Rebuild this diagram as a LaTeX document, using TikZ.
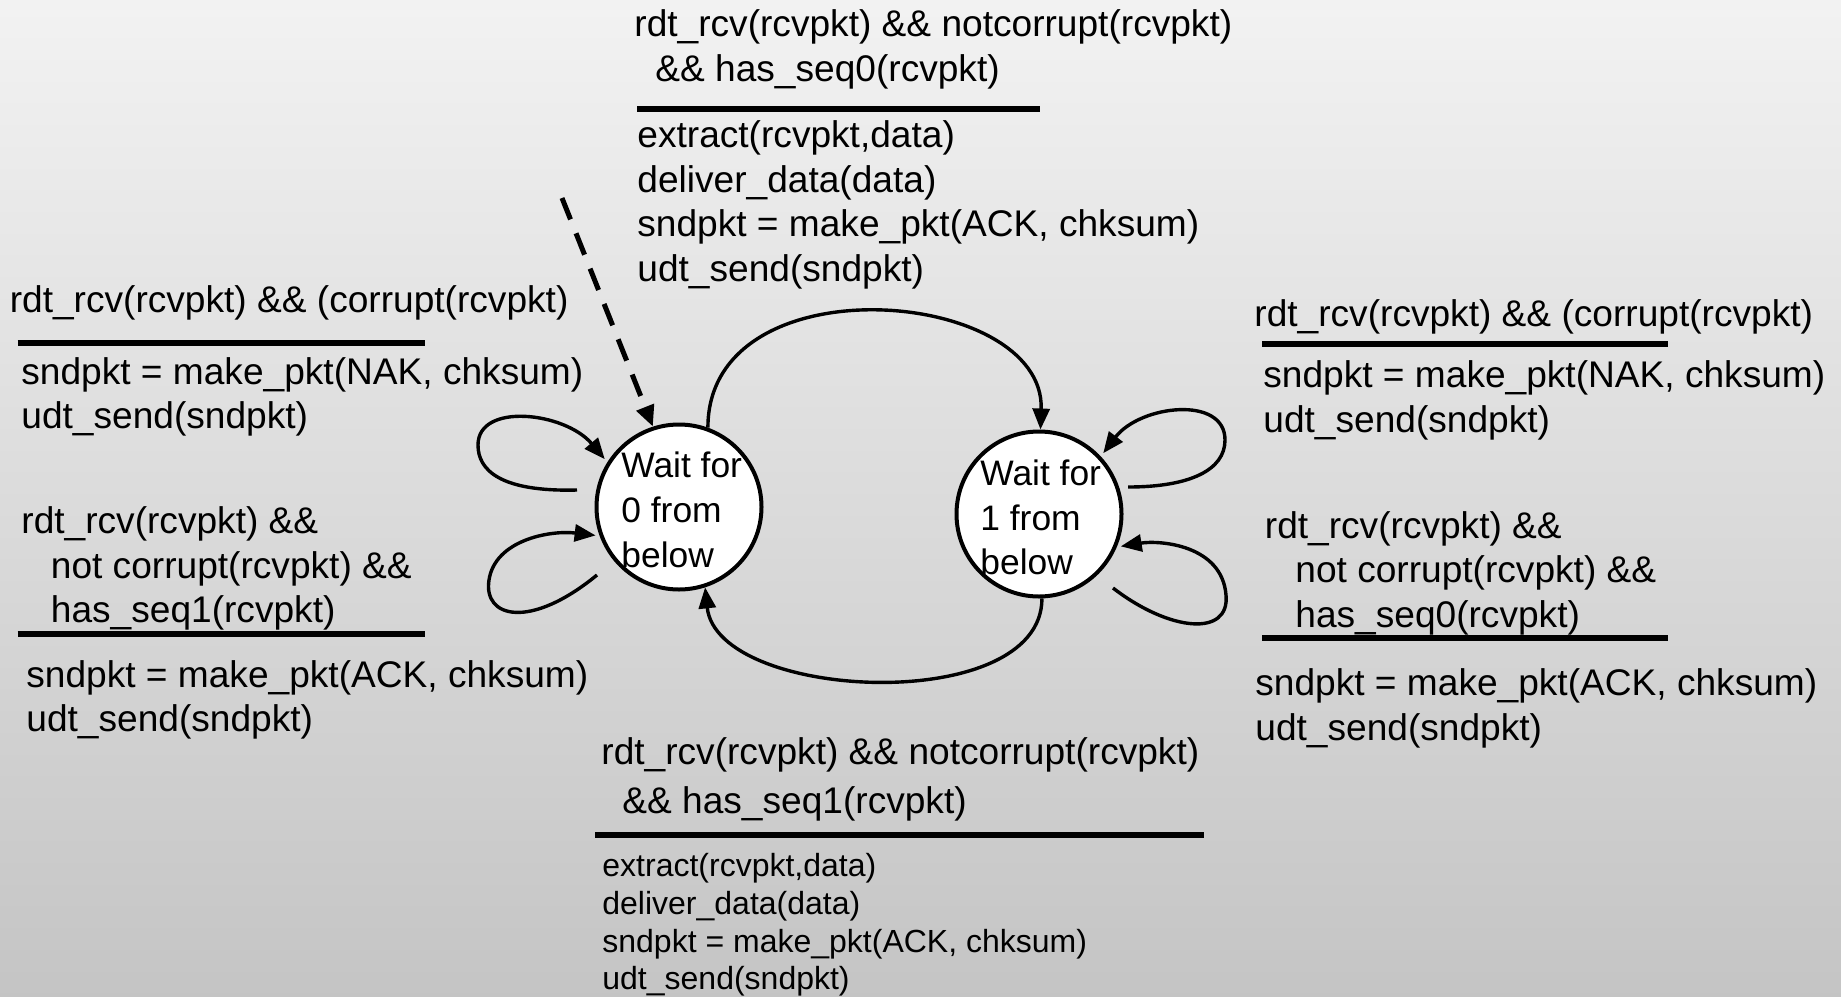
\documentclass[tikz,border=0pt]{standalone}
\usepackage{fontspec}
\setmainfont{Liberation Sans}
\usetikzlibrary{arrows.meta}

\begin{document}
\begin{tikzpicture}[x=0.5pt,y=-0.5pt,
  lbl/.style={anchor=base west, inner sep=0pt, font=\fontsize{18.55pt}{22.3pt}\selectfont},
  small/.style={anchor=base west, inner sep=0pt, font=\fontsize{16pt}{18.8pt}\selectfont},
  statelbl/.style={anchor=base west, inner sep=0pt, font=\fontsize{17.7pt}{22pt}\selectfont},
  statenode/.style={circle, draw=black, fill=white, line width=2pt, minimum size=82.5pt, inner sep=0pt},
  rule/.style={line width=3pt},
  trans/.style={line width=1.7pt, -{Triangle[length=10.5pt,width=8.5pt]}},
  init/.style={line width=2.5pt, dash pattern=on 11.5pt off 7.5pt, -{Triangle[length=10.5pt,width=9pt]}}
]
% paper background
\shade[top color=black!5, middle color=black!12, bottom color=black!23] (0,0) rectangle (1841,996);
\useasboundingbox (0,0) rectangle (1841,996);

% the two receiver states
\node[statenode] (s0) at (679,507) {};
\node[statenode] (s1) at (1039,514) {};
\node[statelbl] (s0a) at (621,477) {Wait for};
\node[statelbl] (s0b) at (621,522) {0 from};
\node[statelbl] (s0c) at (621,567) {below};
\node[statelbl] (s1a) at (980,485.5) {Wait for};
\node[statelbl] (s1b) at (980,530) {1 from};
\node[statelbl] (s1c) at (980,574.5) {below};

% initial transition
\coordinate (start) at (562,198);
\draw[init] (start) -- (s0.108);

% 0 -> 1 and 1 -> 0
\draw[trans] (s0.70) .. controls +(0,-168) and +(5,-142) .. (s1.89);
\draw[trans] (s1.272) .. controls +(0,118) and +(12,114) .. (s0.288);

% self loops of state 0
\coordinate (l0a) at (577,490);
\coordinate (l0b) at (597,575);
\draw[trans, shorten >=2pt] (l0a) .. controls (500,492) and (478,470) .. (478,445)
      .. controls (478,402) and (565,412) .. (s0.148);
\draw[trans, shorten >=2pt] (l0b) .. controls (530,630) and (483,618) .. (489,580)
      .. controls (495,540) and (550,530) .. (s0.200);

% self loops of state 1
\coordinate (l1a) at (1128,487);
\coordinate (l1b) at (1113,588);
\draw[trans, shorten >=2pt] (l1a) .. controls (1190,487) and (1225,470) .. (1225,440)
      .. controls (1225,395) and (1140,405) .. (s1.43);
\draw[trans, shorten >=2pt] (l1b) .. controls (1170,632) and (1230,637) .. (1226,595)
      .. controls (1222,545) and (1160,540) .. (s1.337);

% top label: 0 -> 1
\node[lbl] (t1) at (634,36.5) {rdt\_rcv(rcvpkt) \&\& notcorrupt(rcvpkt)};
\node[lbl] (t2) at (655,81.5) {\&\& has\_seq0(rcvpkt)};
\draw[rule] (637,109) -- (1040,109);
\node[lbl] (t3) at (637,147.5) {extract(rcvpkt,data)};
\node[lbl] (t4) at (637,192) {deliver\_data(data)};
\node[lbl] (t5) at (637,236.5) {sndpkt = make\_pkt(ACK, chksum)};
\node[lbl] (t6) at (637,281) {udt\_send(sndpkt)};

% left labels: loops of state 0
\node[lbl] (a1) at (9.4,312.5) {rdt\_rcv(rcvpkt) \&\& (corrupt(rcvpkt)};
\draw[rule] (17.6,343) -- (425,343);
\node[lbl] (a2) at (21,384.5) {sndpkt = make\_pkt(NAK, chksum)};
\node[lbl] (a3) at (21,428.5) {udt\_send(sndpkt)};
\node[lbl] (b1) at (21,533.5) {rdt\_rcv(rcvpkt) \&\&};
\node[lbl] (b2) at (50.5,578) {not corrupt(rcvpkt) \&\&};
\node[lbl] (b3) at (50.5,622.5) {has\_seq1(rcvpkt)};
\draw[rule] (17.6,634) -- (425,634);
\node[lbl] (b4) at (26,687) {sndpkt = make\_pkt(ACK, chksum)};
\node[lbl] (b5) at (26,731.5) {udt\_send(sndpkt)};

% right labels: loops of state 1
\node[lbl] (c1) at (1254,326.5) {rdt\_rcv(rcvpkt) \&\& (corrupt(rcvpkt)};
\draw[rule] (1262,344) -- (1668,344);
\node[lbl] (c2) at (1263,387.5) {sndpkt = make\_pkt(NAK, chksum)};
\node[lbl] (c3) at (1263,432.5) {udt\_send(sndpkt)};
\node[lbl] (d1) at (1264.5,538) {rdt\_rcv(rcvpkt) \&\&};
\node[lbl] (d2) at (1295,582.5) {not corrupt(rcvpkt) \&\&};
\node[lbl] (d3) at (1295,627) {has\_seq0(rcvpkt)};
\draw[rule] (1262,637.5) -- (1668,637.5);
\node[lbl] (d4) at (1255,695.5) {sndpkt = make\_pkt(ACK, chksum)};
\node[lbl] (d5) at (1255,740) {udt\_send(sndpkt)};

% bottom label: 1 -> 0
\node[lbl] (e1) at (601,764.5) {rdt\_rcv(rcvpkt) \&\& notcorrupt(rcvpkt)};
\node[lbl] (e2) at (622,813.5) {\&\& has\_seq1(rcvpkt)};
\draw[rule] (595,835) -- (1203.5,835);
\node[small] (e3) at (602,876) {extract(rcvpkt,data)};
\node[small] (e4) at (602,914.5) {deliver\_data(data)};
\node[small] (e5) at (602,952.5) {sndpkt = make\_pkt(ACK, chksum)};
\node[small] (e6) at (602,989.5) {udt\_send(sndpkt)};
\end{tikzpicture}
\end{document}
